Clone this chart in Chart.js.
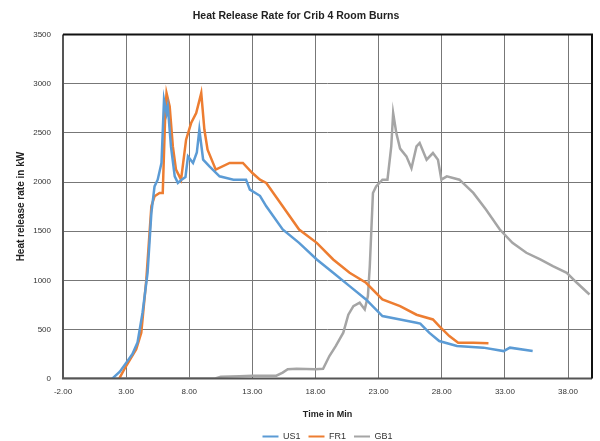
<!DOCTYPE html>
<html>
<head>
<meta charset="utf-8">
<script src="https://cdn.jsdelivr.net/npm/chart.js@4.4.1/dist/chart.umd.min.js"></script>
<style>
  html, body { margin: 0; padding: 0; background: #fff; }
</style>
</head>
<body>
<canvas id="chart" width="600" height="441"></canvas>
<script>
// Time (min) and heat release rate (kW)
const us1Time = [1.9, 2.5, 3.0, 3.5, 3.9, 4.3, 4.7, 5.0, 5.25, 5.5, 5.8, 6.0, 6.2, 6.3, 6.55, 6.85, 7.1, 7.4, 7.7, 7.9, 8.3, 8.6, 8.8, 9.1, 9.6, 10.4, 11.5, 12.5, 12.8, 13.6, 14.1, 15.4, 16.7, 18.1, 19.4, 20.7, 22.0, 23.3, 24.7, 26.0, 26.3, 27.0, 27.8, 29.2, 31.3, 32.9, 33.4, 35.2];
const us1Hrr = [0, 70, 160, 250, 366, 670, 1077, 1686, 1956, 2024, 2194, 2837, 2700, 2769, 2362, 2058, 1991, 2024, 2050, 2261, 2194, 2300, 2532, 2227, 2160, 2058, 2024, 2024, 1923, 1860, 1753, 1517, 1381, 1212, 1077, 941, 805, 636, 602, 569, 560, 467, 382, 331, 315, 280, 315, 280];

const fr1Time = [2.45, 3.0, 3.8, 4.2, 4.6, 5.0, 5.25, 5.65, 5.9, 6.1, 6.2, 6.45, 6.7, 6.95, 7.35, 7.75, 8.15, 8.55, 8.95, 9.2, 9.45, 10.1, 11.2, 12.25, 13.0, 13.6, 14.1, 15.4, 16.7, 18.1, 19.4, 20.7, 22.0, 23.3, 24.7, 26.0, 27.3, 27.8, 28.6, 29.3, 30.5, 31.7];
const fr1Hrr = [0, 128, 298, 467, 1009, 1753, 1855, 1889, 1889, 2700, 2905, 2769, 2362, 2126, 2024, 2431, 2600, 2702, 2905, 2532, 2329, 2126, 2194, 2194, 2092, 2024, 1991, 1753, 1517, 1381, 1212, 1077, 975, 805, 737, 650, 602, 534, 433, 366, 366, 360];

const gb1Time = [-2, 10.0, 10.5, 12.0, 13.0, 14.9, 15.4, 15.8, 16.5, 18.0, 18.6, 19.1, 19.6, 20.2, 20.6, 21.0, 21.5, 21.9, 22.15, 22.3, 22.55, 22.8, 23.3, 23.7, 24.0, 24.15, 24.4, 24.7, 25.2, 25.6, 26.0, 26.25, 26.8, 27.3, 27.7, 27.97, 28.4, 29.4, 30.5, 31.5, 32.6, 33.6, 34.7, 35.8, 36.8, 37.9, 38.7, 39.7];
const gb1Hrr = [0, 0, 20, 25, 30, 30, 61, 95, 100, 95, 100, 230, 330, 467, 650, 737, 772, 704, 839, 1144, 1889, 1956, 2024, 2024, 2362, 2702, 2499, 2340, 2261, 2140, 2362, 2397, 2227, 2295, 2227, 2024, 2058, 2024, 1889, 1720, 1517, 1381, 1280, 1212, 1144, 1077, 975, 856];

const xTicks = [-2, 3, 8, 13, 18, 23, 28, 33, 38];

const toPoints = (xs, ys) => xs.map((x, i) => ({ x: x, y: ys[i] }));

const fontFamily = "'Liberation Sans', sans-serif";

// Draws the dark frame round the plot area
const frame = {
  id: "frame",
  afterDraw(chart) {
    const { ctx, chartArea: a } = chart;
    ctx.save();
    ctx.lineWidth = 2;
    ctx.strokeStyle = "#555";
    ctx.beginPath();
    ctx.moveTo(a.left, a.top);
    ctx.lineTo(a.left, a.bottom);
    ctx.lineTo(a.right, a.bottom);
    ctx.stroke();
    ctx.strokeStyle = "#111";
    ctx.beginPath();
    ctx.moveTo(a.left, a.top);
    ctx.lineTo(a.right, a.top);
    ctx.lineTo(a.right, a.bottom);
    ctx.stroke();
    ctx.restore();
  }
};

const series = (label, xs, ys, color) => ({
  label: label,
  data: toPoints(xs, ys),
  borderColor: color,
  backgroundColor: color,
  borderWidth: 2.5,
  pointRadius: 0,
  tension: 0
});

new Chart(document.getElementById("chart"), {
  type: "line",
  data: {
    datasets: [
      series("US1", us1Time, us1Hrr, "#5b9bd5"),
      series("FR1", fr1Time, fr1Hrr, "#ed7d31"),
      series("GB1", gb1Time, gb1Hrr, "#a5a5a5")
    ]
  },
  plugins: [frame],
  options: {
    responsive: false,
    animation: false,
    layout: { padding: { left: 0, right: 8, top: 0, bottom: -10 } },
    plugins: {
      tooltip: { enabled: false },
      title: {
        display: true,
        text: "Heat Release Rate for Crib 4 Room Burns",
        color: "#222",
        font: { family: fontFamily, size: 10.5, weight: "bold" },
        padding: { top: 10, bottom: 12 }
      },
      legend: {
        position: "bottom",
        fullSize: false,
        labels: {
          color: "#333",
          font: { family: fontFamily, size: 9 },
          boxWidth: 16,
          boxHeight: 2,
          padding: 8,
          generateLabels: (chart) =>
            Chart.defaults.plugins.legend.labels.generateLabels(chart).map(l => ({ ...l, lineWidth: 0, fillStyle: l.strokeStyle }))
        }
      }
    },
    scales: {
      x: {
        type: "linear",
        min: -2,
        max: 39.9,
        afterBuildTicks: (scale) => { scale.ticks = xTicks.map(v => ({ value: v })); },
        grid: { color: "#777", drawTicks: false },
        border: { display: false },
        ticks: {
          autoSkip: false,
          maxRotation: 0,
          padding: 8,
          color: "#333",
          font: { family: fontFamily, size: 8 },
          callback: (v) => Number(v).toFixed(2)
        },
        title: {
          display: true,
          text: "Time in Min",
          color: "#222",
          font: { family: fontFamily, size: 9, weight: "bold" },
          padding: { top: 5, bottom: 4 }
        }
      },
      y: {
        min: 0,
        max: 3500,
        afterFit: (scale) => { scale.width = 63; },
        grid: { color: "#777", drawTicks: false },
        border: { display: false },
        ticks: {
          stepSize: 500,
          padding: 12,
          color: "#333",
          font: { family: fontFamily, size: 8 },
          callback: (v) => String(v)
        },
        title: {
          display: true,
          text: "Heat release rate in kW",
          color: "#222",
          font: { family: fontFamily, size: 10, weight: "bold" },
          padding: { top: 15, bottom: 4 }
        }
      }
    }
  }
});
</script>
</body>
</html>
